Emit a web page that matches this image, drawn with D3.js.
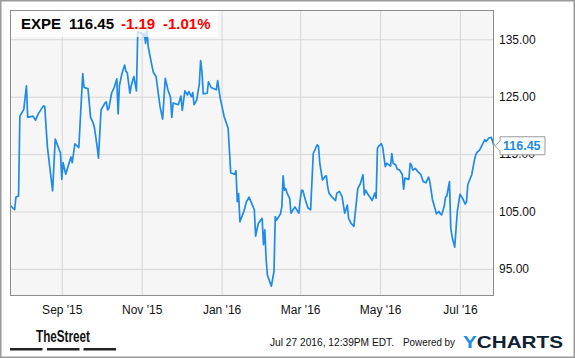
<!DOCTYPE html>
<html>
<head>
<meta charset="utf-8">
<script src="https://cdn.jsdelivr.net/npm/d3@7"></script>
<style>
  body { margin: 0; background: #fff; }
  svg { display: block; font-family: Arial, "Liberation Sans", sans-serif; }
</style>
</head>
<body>
<svg id="chart" width="575" height="358"></svg>
<script>
// EXPE daily close
var dates = [
  "2015-07-24","2015-07-27","2015-07-28","2015-07-30","2015-07-31","2015-08-03","2015-08-05","2015-08-06",
  "2015-08-10","2015-08-12","2015-08-14","2015-08-18","2015-08-19","2015-08-21","2015-08-24","2015-08-25",
  "2015-08-27","2015-08-31","2015-09-01","2015-09-02","2015-09-04","2015-09-08","2015-09-09","2015-09-11",
  "2015-09-14","2015-09-17","2015-09-18","2015-09-21","2015-09-23","2015-09-25","2015-09-26","2015-09-28",
  "2015-09-29","2015-10-01","2015-10-04","2015-10-05","2015-10-06","2015-10-07","2015-10-09","2015-10-11",
  "2015-10-13","2015-10-14","2015-10-15","2015-10-17","2015-10-19","2015-10-20","2015-10-21","2015-10-23",
  "2015-10-24","2015-10-26","2015-10-28","2015-10-29","2015-10-31","2015-11-01","2015-11-02","2015-11-03",
  "2015-11-04","2015-11-05","2015-11-06","2015-11-09","2015-11-10","2015-11-12","2015-11-14","2015-11-15",
  "2015-11-17","2015-11-19","2015-11-21","2015-11-23","2015-11-24","2015-11-25","2015-11-29","2015-12-01",
  "2015-12-02","2015-12-04","2015-12-06","2015-12-07","2015-12-09","2015-12-10","2015-12-11","2015-12-13",
  "2015-12-15","2015-12-16","2015-12-17","2015-12-18","2015-12-21","2015-12-22","2015-12-24","2015-12-27",
  "2015-12-28","2015-12-29","2015-12-31","2016-01-03","2016-01-06","2016-01-08","2016-01-11","2016-01-12",
  "2016-01-13","2016-01-14","2016-01-15","2016-01-18","2016-01-20","2016-01-22","2016-01-24","2016-01-26",
  "2016-01-27","2016-01-29","2016-02-01","2016-02-02","2016-02-03","2016-02-04","2016-02-05","2016-02-08",
  "2016-02-10","2016-02-11","2016-02-12","2016-02-15","2016-02-16","2016-02-17","2016-02-18","2016-02-19",
  "2016-02-20","2016-02-22","2016-02-23","2016-02-26","2016-02-29","2016-03-01","2016-03-02","2016-03-03",
  "2016-03-05","2016-03-07","2016-03-09","2016-03-11","2016-03-14","2016-03-15","2016-03-16","2016-03-18",
  "2016-03-20","2016-03-21","2016-03-22","2016-03-23","2016-03-25","2016-03-28","2016-03-29","2016-03-31",
  "2016-04-02","2016-04-04","2016-04-06","2016-04-07","2016-04-09","2016-04-11","2016-04-14","2016-04-16",
  "2016-04-18","2016-04-19","2016-04-20","2016-04-22","2016-04-25","2016-04-27","2016-04-28","2016-04-29",
  "2016-04-30","2016-05-02","2016-05-03","2016-05-05","2016-05-06","2016-05-09","2016-05-10","2016-05-11",
  "2016-05-13","2016-05-14","2016-05-16","2016-05-18","2016-05-19","2016-05-20","2016-05-23","2016-05-24",
  "2016-05-25","2016-05-26","2016-05-28","2016-05-30","2016-06-01","2016-06-03","2016-06-05","2016-06-07",
  "2016-06-08","2016-06-10","2016-06-12","2016-06-13","2016-06-15","2016-06-16","2016-06-17","2016-06-19",
  "2016-06-20","2016-06-21","2016-06-23","2016-06-24","2016-06-25","2016-06-27","2016-06-29","2016-07-01",
  "2016-07-03","2016-07-05","2016-07-06","2016-07-07","2016-07-10","2016-07-12","2016-07-13","2016-07-14",
  "2016-07-16","2016-07-18","2016-07-20","2016-07-21","2016-07-23","2016-07-25","2016-07-27"
];
var prices = [
  106.0,105.3,107.5,107.7,121.6,122.8,126.9,121.4,
  121.6,120.9,122.0,123.4,123.3,116.3,110.5,108.6,
  117.6,115.2,110.6,113.5,111.5,114.5,113.5,116.8,
  116.1,129.0,126.6,126.4,121.4,120.4,119.5,116.3,
  114.3,122.7,123.9,124.1,122.7,123.0,125.6,126.6,
  128.1,122.0,126.9,129.1,130.5,129.4,129.2,125.6,
  126.9,128.5,126.0,136.3,136.0,136.1,135.5,136.0,
  134.3,136.6,133.7,130.2,129.2,128.5,125.0,123.3,
  121.1,128.2,126.2,124.9,121.4,123.9,123.6,125.1,
  122.6,126.0,125.3,125.9,125.0,125.7,123.6,124.4,
  127.2,131.3,129.4,125.5,125.6,127.6,126.6,126.3,
  126.2,127.8,124.7,121.5,119.5,111.7,111.5,112.1,
  106.7,108.1,103.2,105.0,106.7,107.5,106.4,105.3,
  100.7,102.9,103.8,99.2,101.8,96.8,93.9,92.0,
  94.5,104.1,103.5,104.6,105.8,111.2,108.7,109.0,
  108.2,107.3,104.7,105.8,104.7,107.0,108.7,108.7,
  107.0,105.6,105.3,115.1,116.6,116.4,113.4,110.5,
  111.1,111.2,109.3,108.2,107.6,106.9,108.2,108.5,
  107.6,104.7,106.1,103.8,102.9,102.4,109.0,109.9,
  111.4,107.9,108.7,107.9,106.9,108.2,107.3,116.0,
  116.4,116.8,116.2,112.8,113.4,112.9,115.1,113.4,
  113.1,112.4,112.2,111.4,108.9,110.8,110.6,113.4,
  113.1,112.2,112.5,111.9,111.5,110.2,110.0,111.0,
  110.2,107.1,105.5,104.6,105.0,104.6,104.4,105.9,
  107.5,107.7,110.2,102.1,100.6,98.8,105.0,108.0,
  107.3,106.3,106.7,109.7,111.4,113.9,114.8,115.3,
  115.7,116.6,117.5,117.2,117.8,117.9,116.45
];

var xTickDates = ["2015-09-01","2015-11-01","2016-01-01","2016-03-01","2016-05-01","2016-07-01"];
var xTickLabels = ["Sep '15","Nov '15","Jan '16","Mar '16","May '16","Jul '16"];
var yTicks = [95, 105, 115, 125, 135];

var ticker = "EXPE";
var lastPrice = "116.45";
var change = "-1.19";
var changePct = "-1.01%";
var stamp = "Jul 27 2016, 12:39PM EDT.";

var parse = d3.timeParse("%Y-%m-%d");
var data = dates.map(function(d, i) {
  return { date: parse(d), price: prices[i] };
});

var blue = "#1e8be6";
var pL = 10, pT = 10, pR = 494, pB = 295;

var svg = d3.select("#chart");

// outer frame
svg.append("rect")
  .attr("x", 0.75).attr("y", 0.75)
  .attr("width", 573.5).attr("height", 356.5)
  .attr("fill", "#fff")
  .attr("stroke", "#9a9a9a")
  .attr("stroke-width", 1.5);

var x = d3.scaleTime()
  .domain([parse("2015-07-24"), parse("2016-07-27")])
  .range([10.7, pR]);
var y = d3.scaleLinear()
  .domain([90.45, 140.1])
  .range([pB, pT]);

// plot background
svg.append("rect")
  .attr("x", pL).attr("y", pT)
  .attr("width", pR - pL).attr("height", pB - pT)
  .attr("fill", "#f6f6f6");

// grid + labels
var xTicks = xTickDates.map(parse);
var gx = svg.append("g")
  .attr("transform", "translate(0," + pB + ")")
  .call(d3.axisBottom(x)
    .tickValues(xTicks)
    .tickSize(-(pB - pT))
    .tickFormat(function(d, i) { return xTickLabels[i]; }));
gx.select(".domain").remove();
gx.selectAll(".tick line").attr("stroke", "#d6d6d6");
gx.selectAll(".tick text")
  .attr("y", 10)
  .attr("fill", "#111")
  .style("font-size", "12px")
  .style("font-family", "Arial, 'Liberation Sans', sans-serif");

var gy = svg.append("g")
  .attr("transform", "translate(" + pR + ",0)")
  .call(d3.axisRight(y)
    .tickValues(yTicks)
    .tickSize(-(pR - pL))
    .tickFormat(function(d) { return d3.format(".2f")(d); }));
gy.select(".domain").remove();
gy.selectAll(".tick line").attr("stroke", "#d6d6d6");
gy.selectAll(".tick text")
  .attr("x", 5)
  .attr("fill", "#111")
  .style("font-size", "12px")
  .style("font-family", "Arial, 'Liberation Sans', sans-serif");

// price line
var line = d3.line()
  .x(function(d) { return x(d.date); })
  .y(function(d) { return y(d.price); });

svg.append("path")
  .datum(data)
  .attr("d", line)
  .attr("fill", "none")
  .attr("stroke", blue)
  .attr("stroke-width", 1.7)
  .attr("stroke-linejoin", "round");

// plot border
svg.append("rect")
  .attr("x", pL + 0.5).attr("y", pT + 0.5)
  .attr("width", pR - pL - 1).attr("height", pB - pT)
  .attr("fill", "none")
  .attr("stroke", "#8c8c8c");

// header box
svg.append("rect")
  .attr("x", pL + 1).attr("y", pT + 1)
  .attr("width", 207).attr("height", 26)
  .attr("fill", "#fff")
  .attr("fill-opacity", 0.75);

var head = svg.append("g").style("font-weight", "bold").style("font-size", "15px");
head.append("text").attr("x", 21).attr("y", 28.5).attr("fill", "#000").text(ticker);
head.append("text").attr("x", 69).attr("y", 28.5).attr("fill", "#000").text(lastPrice);
head.append("text").attr("x", 121).attr("y", 28.5).attr("fill", "#f00").text(change);
head.append("text").attr("x", 163).attr("y", 28.5).attr("fill", "#f00").text(changePct);

// last value flag
var last = data[data.length - 1];
var ly = y(last.price);
var fx = x(last.date) + 1;
svg.append("path")
  .attr("d", "M" + fx + "," + ly +
    " L" + (fx + 5) + "," + (ly - 5) +
    " L" + (fx + 5) + "," + (ly - 9) +
    " L" + (fx + 50) + "," + (ly - 9) +
    " L" + (fx + 50) + "," + (ly + 9) +
    " L" + (fx + 5) + "," + (ly + 9) +
    " L" + (fx + 5) + "," + (ly + 5) + " Z")
  .attr("fill", "#fff")
  .attr("stroke", "#999");
svg.append("text")
  .attr("x", fx + 8).attr("y", ly + 4.5)
  .attr("fill", blue)
  .style("font-weight", "bold")
  .style("font-size", "12.5px")
  .text(lastPrice);

// footer: TheStreet logo
svg.append("text")
  .attr("x", 36).attr("y", 342)
  .attr("textLength", 54)
  .attr("lengthAdjust", "spacingAndGlyphs")
  .style("font-family", "'Liberation Sans Narrow', 'Liberation Sans', Arial, sans-serif")
  .style("font-weight", "bold")
  .style("font-size", "17px")
  .attr("fill", "#111")
  .text("TheStreet");
svg.selectAll("rect.bar")
  .data([10, 47, 83.5])
  .enter().append("rect")
  .attr("class", "bar")
  .attr("x", function(d) { return d; })
  .attr("y", 348)
  .attr("width", 32.5)
  .attr("height", 2.5)
  .attr("fill", "#222");

// footer: stamp and YCHARTS
svg.append("text")
  .attr("x", 270).attr("y", 346)
  .attr("textLength", 124)
  .attr("lengthAdjust", "spacingAndGlyphs")
  .style("font-size", "10.5px")
  .attr("fill", "#111")
  .text(stamp);
svg.append("text")
  .attr("x", 403).attr("y", 346)
  .attr("textLength", 52)
  .attr("lengthAdjust", "spacingAndGlyphs")
  .style("font-size", "11px")
  .attr("fill", "#111")
  .text("Powered by");
var yc = svg.append("text")
  .attr("x", 463).attr("y", 347.5)
  .attr("textLength", 100)
  .attr("lengthAdjust", "spacingAndGlyphs")
  .style("font-size", "17px")
  .style("font-weight", "bold");
yc.append("tspan").attr("fill", "#1a8fe3").text("Y");
yc.append("tspan").attr("fill", "#0f2233").text("CHARTS");
</script>
</body>
</html>
